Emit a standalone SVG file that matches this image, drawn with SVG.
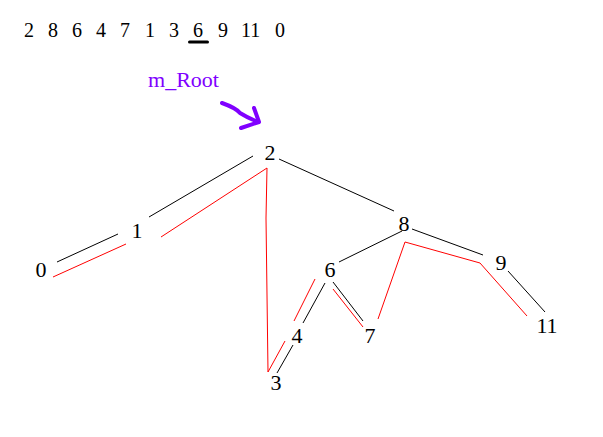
<svg xmlns="http://www.w3.org/2000/svg" width="603" height="437" viewBox="0 0 603 437">
<style>
.seq{font-family:"Liberation Serif","Times New Roman",serif;font-size:20px;fill:#000}
.lbl{font-family:"Liberation Serif","Times New Roman",serif;font-size:22px;fill:#000;text-anchor:middle}
.root{font-family:"Liberation Serif","Times New Roman",serif;font-size:21px;fill:#8000ff}
.blk{stroke:#000;stroke-width:1;fill:none}
.red{stroke:#ff0000;stroke-width:1;fill:none}
.arr{stroke:#8000ff;stroke-width:4;fill:none;stroke-linecap:round;stroke-linejoin:round}
</style>
<rect width="603" height="437" fill="#fff"/>
<g id="sequence">
<text class="seq" y="37"><tspan x="24">2</tspan><tspan x="48">8</tspan><tspan x="72">6</tspan><tspan x="96">4</tspan><tspan x="120">7</tspan><tspan x="145">1</tspan><tspan x="169">3</tspan><tspan x="193">6</tspan><tspan x="218">9</tspan><tspan x="241">11</tspan><tspan x="275">0</tspan></text>
<rect x="188" y="40.5" width="21" height="3" rx="1.5" fill="#000"/>
</g>
<g id="mroot">
<text class="root" x="148" y="87" textLength="71" lengthAdjust="spacingAndGlyphs">m_Root</text>
<path class="arr" d="M222,103 Q236,108 240,113 Q248,118 258,122 M254,108 L259,122 L241,128"/>
</g>
<g id="connectors">
<line class="blk" x1="149" y1="217" x2="253" y2="156"/>
<line class="blk" x1="279" y1="159" x2="394" y2="211"/>
<line class="blk" x1="118" y1="234" x2="57" y2="262"/>
<line class="blk" x1="402" y1="231" x2="339" y2="262"/>
<line class="blk" x1="412" y1="229" x2="483" y2="255"/>
<line class="blk" x1="508" y1="271" x2="545" y2="312"/>
<line class="blk" x1="325" y1="283" x2="303" y2="323"/>
<line class="blk" x1="333" y1="282" x2="363" y2="321"/>
<line class="blk" x1="293" y1="345" x2="277" y2="373"/>
<line class="red" x1="53" y1="277" x2="126" y2="244"/>
<polyline class="red" points="161,237 267,168 266,218 268,372 285,341"/>
<line class="red" x1="294" y1="321" x2="315" y2="279"/>
<line class="red" x1="333" y1="289" x2="363" y2="327"/>
<polyline class="red" points="378,319 405,242 480,263 527,316"/>
</g>
<g id="n2"><text class="lbl" x="270" y="160">2</text></g>
<g id="n1"><text class="lbl" x="137" y="238">1</text></g>
<g id="n0"><text class="lbl" x="41" y="277">0</text></g>
<g id="n8"><text class="lbl" x="404" y="231">8</text></g>
<g id="n6"><text class="lbl" x="330" y="277">6</text></g>
<g id="n9"><text class="lbl" x="501" y="270">9</text></g>
<g id="n4"><text class="lbl" x="297" y="343">4</text></g>
<g id="n7"><text class="lbl" x="370" y="343">7</text></g>
<g id="n3"><text class="lbl" x="276" y="390">3</text></g>
<g id="n11"><text class="lbl" x="547" y="333">11</text></g>
</svg>
